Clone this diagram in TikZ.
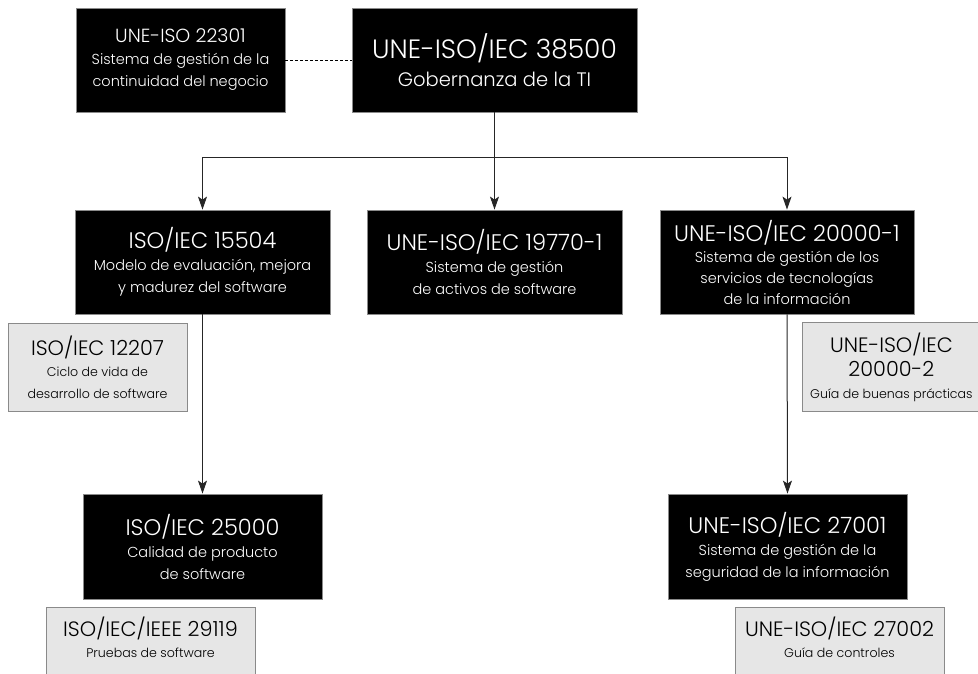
\documentclass[tikz,border=0pt]{standalone}
\usepackage{fontspec}
\setmainfont{Poppins Light}
\usetikzlibrary{arrows.meta}
\definecolor{grayfill}{HTML}{E6E6E6}
\definecolor{grayedge}{HTML}{8A8A8A}
\newcommand{\mttl}{\fontsize{26.5}{28}\selectfont}
\newcommand{\msub}{\fontsize{19.5}{28}\selectfont}
\newcommand{\bttl}{\fontsize{22.5}{22}\selectfont}
\newcommand{\bsub}{\fontsize{14.5}{22}\selectfont}
\newcommand{\bsubb}{\fontsize{14.5}{21}\selectfont}
\newcommand{\gttl}{\fontsize{20.8}{22}\selectfont}
\newcommand{\gsub}{\fontsize{12.6}{21.5}\selectfont}
\tikzset{
  blk/.style={draw=grayedge, line width=0.8pt, fill=black, text=white, align=center, inner sep=0pt, font=\bsub},
  gry/.style={draw=grayedge, line width=0.8pt, fill=grayfill, text=black, align=center, inner sep=0pt, font=\gsub},
  conn/.style={line width=1pt, draw=black!85},
  arr/.style={conn, -{Stealth[length=13pt,width=9pt,inset=3pt]}},
  dsh/.style={line width=0.9pt, dash pattern=on 3pt off 2pt}
}
\begin{document}
\begin{tikzpicture}[x=1pt,y=-1pt]
\useasboundingbox (0,0) rectangle (978,673);
\clip (0,0) rectangle (978,673);
% top row
\node[blk, minimum width=209, minimum height=104] (b22301) at (180.5,60)
  {{\fontsize{19}{22}\selectfont UNE-ISO 22301}\\Sistema de gestión de la\\continuidad del negocio};
\node[blk, minimum width=285, minimum height=104, font=\msub] (main) at (494.5,60)
  {{\mttl UNE-ISO/IEC 38500}\\Gobernanza de la TI};
% middle row
\node[blk, minimum width=255, minimum height=104] (b15504) at (202.5,262)
  {{\bttl ISO/IEC 15504}\\Modelo de evaluación, mejora\\y madurez del software};
\node[blk, minimum width=255, minimum height=104] (b19770) at (494.5,262)
  {{\bttl UNE-ISO/IEC 19770-1}\\Sistema de gestión\\de activos de software};
\node[blk, minimum width=254, minimum height=104, font=\bsubb] (b20000) at (787,262)
  {{\bttl UNE-ISO/IEC 20000-1}\\Sistema de gestión de los\\servicios de tecnologías\\de la información};
% gray side boxes
\node[gry, minimum width=179, minimum height=88] (g12207) at (97.5,367)
  {{\gttl ISO/IEC 12207}\\Ciclo de vida de\\desarrollo de software};
\node[gry, minimum width=178, minimum height=89, anchor=north west, font=\fontsize{12.6}{24}\selectfont] (g20002) at (802,322)
  {{\gttl UNE-ISO/IEC}\\{\gttl 20000-2}\\[-2pt]Guía de buenas prácticas};
% bottom row
\node[blk, minimum width=239, minimum height=105] (b25000) at (202.5,546.5)
  {{\bttl ISO/IEC 25000}\\Calidad de producto\\de software};
\node[blk, minimum width=239, minimum height=105] (b27001) at (787.5,546.5)
  {{\bttl UNE-ISO/IEC 27001}\\Sistema de gestión de la\\seguridad de la información};
\node[gry, minimum width=209, minimum height=80, anchor=north] (g29119) at (150.5,607) {};
\node[gry, minimum width=209, minimum height=80, anchor=north] (g27002) at (839.5,607) {};
\node[anchor=base, align=center, inner sep=0pt, font=\fontsize{12.6}{21}\selectfont] (t29119) at (150.5,657)
  {{\gttl ISO/IEC/IEEE 29119}\\Pruebas de software};
\node[anchor=base, align=center, inner sep=0pt, font=\fontsize{12.6}{21}\selectfont] (t27002) at (839.5,657)
  {{\gttl UNE-ISO/IEC 27002}\\Guía de controles};
% connectors
\draw[dsh] (b22301.east) -- (main.west);
\coordinate (hl) at (202.5,157);
\coordinate (hr) at (787,157);
\draw[conn] (hl) -- (hr);
\draw[arr] (main.south) -- (b19770.north);
\draw[arr] (hl) -- (b15504.north);
\draw[arr] (hr) -- (b20000.north);
\draw[arr] (b15504.south) -- (b25000.north);
\draw[arr] (b20000.south) -- (b27001.north);
\end{tikzpicture}
\end{document}
